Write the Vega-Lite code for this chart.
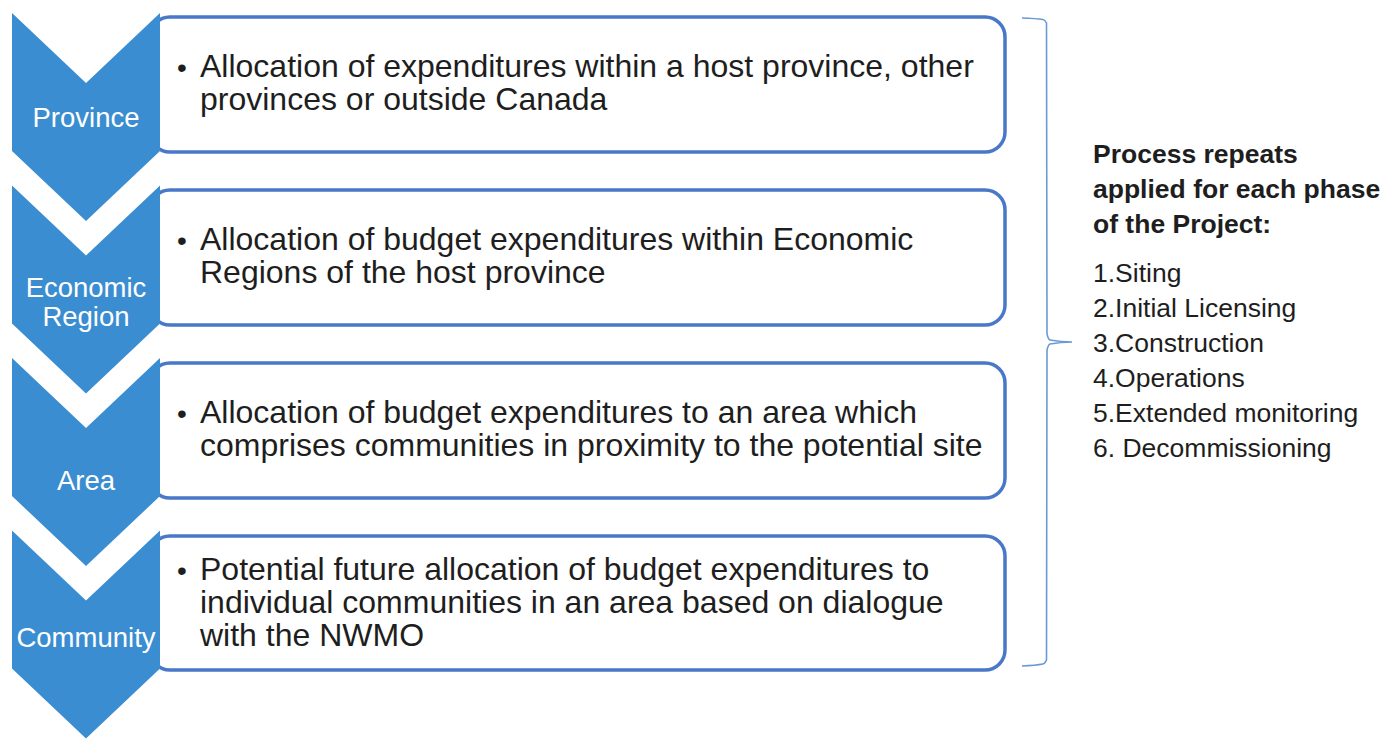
{
  "$schema": "https://vega.github.io/schema/vega-lite/v6.json",
  "width": 1397,
  "height": 739,
  "autosize": {"type": "fit", "contains": "padding"},
  "padding": 0,
  "background": "white",
  "config": {"view": {"stroke": null}},
  "datasets": {
    "boxes": [
      {"x": 150, "x2": 1005, "y": 17, "y2": 152},
      {"x": 150, "x2": 1005, "y": 190, "y2": 325},
      {"x": 150, "x2": 1005, "y": 363, "y2": 498},
      {"x": 150, "x2": 1005, "y": 536, "y2": 670}
    ],
    "chev": [
      {"id": 1, "x": 12, "top": 13, "bot": 151},
      {"id": 1, "x": 86, "top": 83, "bot": 221},
      {"id": 1, "x": 160, "top": 13, "bot": 151},
      {"id": 2, "x": 12, "top": 185.5, "bot": 323.5},
      {"id": 2, "x": 86, "top": 255.5, "bot": 393.5},
      {"id": 2, "x": 160, "top": 185.5, "bot": 323.5},
      {"id": 3, "x": 12, "top": 358, "bot": 496},
      {"id": 3, "x": 86, "top": 428, "bot": 566},
      {"id": 3, "x": 160, "top": 358, "bot": 496},
      {"id": 4, "x": 12, "top": 530.5, "bot": 668.5},
      {"id": 4, "x": 86, "top": 600.5, "bot": 738.5},
      {"id": 4, "x": 160, "top": 530.5, "bot": 668.5}
    ],
    "bracket": [
      {"o": 1, "x": 1022, "y": 18},
      {"o": 2, "x": 1043, "y": 19.5},
      {"o": 3, "x": 1046.5, "y": 23},
      {"o": 4, "x": 1047, "y": 334},
      {"o": 5, "x": 1050, "y": 340},
      {"o": 6, "x": 1072, "y": 342},
      {"o": 7, "x": 1050, "y": 344},
      {"o": 8, "x": 1047, "y": 350},
      {"o": 9, "x": 1046.5, "y": 660},
      {"o": 10, "x": 1043, "y": 664},
      {"o": 11, "x": 1022, "y": 666}
    ],
    "labels": [
      {"x": 86, "y": 127, "t": "Province"},
      {"x": 86, "y": 297, "t": "Economic"},
      {"x": 86, "y": 326, "t": "Region"},
      {"x": 86, "y": 490, "t": "Area"},
      {"x": 86, "y": 647, "t": "Community"}
    ],
    "bullets": [
      {"x": 182, "y": 77},
      {"x": 182, "y": 250},
      {"x": 182, "y": 423},
      {"x": 182, "y": 580}
    ],
    "body": [
      {"x": 200, "y": 77, "t": "Allocation of expenditures within a host province, other"},
      {"x": 200, "y": 110, "t": "provinces or outside Canada"},
      {"x": 200, "y": 250, "t": "Allocation of budget expenditures within Economic"},
      {"x": 200, "y": 283, "t": "Regions of the host province"},
      {"x": 200, "y": 423, "t": "Allocation of budget expenditures to an area which"},
      {"x": 200, "y": 456, "t": "comprises communities in proximity to the potential site"},
      {"x": 200, "y": 580, "t": "Potential future allocation of budget expenditures to"},
      {"x": 200, "y": 613, "t": "individual communities in an area  based on dialogue"},
      {"x": 200, "y": 646, "t": "with the NWMO"}
    ],
    "head": [
      {"x": 1093, "y": 163, "t": "Process repeats"},
      {"x": 1093, "y": 198, "t": "applied for each phase"},
      {"x": 1093, "y": 233, "t": "of the Project:"}
    ],
    "list": [
      {"x": 1093, "y": 282, "t": "1.Siting"},
      {"x": 1093, "y": 317, "t": "2.Initial Licensing"},
      {"x": 1093, "y": 352, "t": "3.Construction"},
      {"x": 1093, "y": 387, "t": "4.Operations"},
      {"x": 1093, "y": 422, "t": "5.Extended monitoring"},
      {"x": 1093, "y": 457, "t": "6. Decommissioning"}
    ]
  },
  "layer": [
    {
      "data": {"name": "boxes"},
      "mark": {"type": "rect", "fill": "white", "stroke": "#4a78c8", "strokeWidth": 3.5, "cornerRadius": 20},
      "encoding": {
        "x": {"field": "x", "type": "quantitative", "scale": {"domain": [0, 1397], "nice": false, "zero": false}, "axis": null},
        "x2": {"field": "x2"},
        "y": {"field": "y", "type": "quantitative", "scale": {"domain": [0, 739], "nice": false, "zero": false, "reverse": true}, "axis": null},
        "y2": {"field": "y2"}
      }
    },
    {
      "data": {"name": "chev"},
      "mark": {"type": "area", "color": "#3b8dd1", "interpolate": "linear"},
      "encoding": {
        "x": {"field": "x", "type": "quantitative", "scale": {"domain": [0, 1397], "nice": false, "zero": false}, "axis": null},
        "y": {"field": "top", "type": "quantitative", "scale": {"domain": [0, 739], "nice": false, "zero": false, "reverse": true}, "axis": null},
        "y2": {"field": "bot"},
        "detail": {"field": "id", "type": "nominal"}
      }
    },
    {
      "data": {"name": "bracket"},
      "mark": {"type": "line", "color": "#6a9ad6", "strokeWidth": 1.6, "interpolate": "monotone"},
      "encoding": {
        "x": {"field": "x", "type": "quantitative", "scale": {"domain": [0, 1397], "nice": false, "zero": false}, "axis": null},
        "y": {"field": "y", "type": "quantitative", "scale": {"domain": [0, 739], "nice": false, "zero": false, "reverse": true}, "axis": null},
        "order": {"field": "o", "type": "quantitative"}
      }
    },
    {
      "data": {"name": "labels"},
      "mark": {"type": "text", "color": "white", "font": "Liberation Sans", "fontSize": 27.5, "align": "center", "baseline": "alphabetic"},
      "encoding": {
        "x": {"field": "x", "type": "quantitative", "scale": {"domain": [0, 1397], "nice": false, "zero": false}, "axis": null},
        "y": {"field": "y", "type": "quantitative", "scale": {"domain": [0, 739], "nice": false, "zero": false, "reverse": true}, "axis": null},
        "text": {"field": "t"}
      }
    },
    {
      "data": {"name": "bullets"},
      "mark": {"type": "text", "color": "#1e1e1e", "font": "Liberation Sans", "fontSize": 28, "align": "center", "baseline": "alphabetic", "text": "•"},
      "encoding": {
        "x": {"field": "x", "type": "quantitative", "scale": {"domain": [0, 1397], "nice": false, "zero": false}, "axis": null},
        "y": {"field": "y", "type": "quantitative", "scale": {"domain": [0, 739], "nice": false, "zero": false, "reverse": true}, "axis": null}
      }
    },
    {
      "data": {"name": "body"},
      "mark": {"type": "text", "color": "#1e1e1e", "font": "Liberation Sans", "fontSize": 32, "align": "left", "baseline": "alphabetic"},
      "encoding": {
        "x": {"field": "x", "type": "quantitative", "scale": {"domain": [0, 1397], "nice": false, "zero": false}, "axis": null},
        "y": {"field": "y", "type": "quantitative", "scale": {"domain": [0, 739], "nice": false, "zero": false, "reverse": true}, "axis": null},
        "text": {"field": "t"}
      }
    },
    {
      "data": {"name": "head"},
      "mark": {"type": "text", "color": "#1e1e1e", "font": "Liberation Sans", "fontSize": 26.5, "fontWeight": "bold", "align": "left", "baseline": "alphabetic"},
      "encoding": {
        "x": {"field": "x", "type": "quantitative", "scale": {"domain": [0, 1397], "nice": false, "zero": false}, "axis": null},
        "y": {"field": "y", "type": "quantitative", "scale": {"domain": [0, 739], "nice": false, "zero": false, "reverse": true}, "axis": null},
        "text": {"field": "t"}
      }
    },
    {
      "data": {"name": "list"},
      "mark": {"type": "text", "color": "#1e1e1e", "font": "Liberation Sans", "fontSize": 26.5, "align": "left", "baseline": "alphabetic"},
      "encoding": {
        "x": {"field": "x", "type": "quantitative", "scale": {"domain": [0, 1397], "nice": false, "zero": false}, "axis": null},
        "y": {"field": "y", "type": "quantitative", "scale": {"domain": [0, 739], "nice": false, "zero": false, "reverse": true}, "axis": null},
        "text": {"field": "t"}
      }
    }
  ]
}
